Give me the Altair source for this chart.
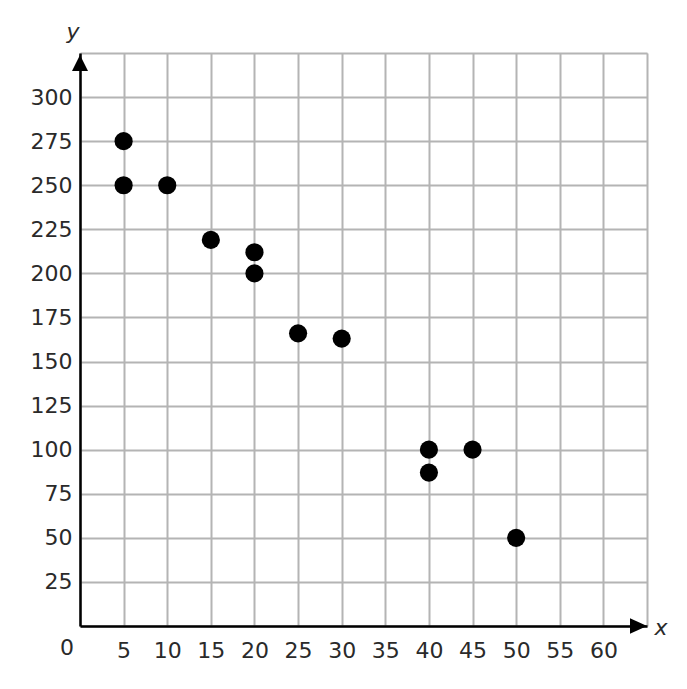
import altair as alt
import pandas as pd

# data
xs = [5, 5, 10, 15, 20, 20, 25, 30, 40, 40, 45, 50]
ys = [275, 250, 250, 219, 212, 200, 166, 163, 100, 87, 100, 50]

x_grid = list(range(0, 70, 5))
y_grid = list(range(0, 350, 25))

FONT = "DejaVu Sans"
FS = 22

pts = pd.DataFrame({"x": xs, "y": ys})

xscale = alt.Scale(domain=[0, 65], nice=False, zero=False)
yscale = alt.Scale(domain=[0, 325], nice=False, zero=False)

xaxis = alt.Axis(
    values=x_grid, title=None, grid=True, gridColor="#b4b4b4", gridWidth=2, gridOpacity=1,
    ticks=False, domainColor="black", domainWidth=2.5, labelFont=FONT, labelFontSize=FS,
    labelColor="#2a2a2a", labelPadding=14,
    labelExpr="(datum.value == 0 || datum.value == 65) ? '' : datum.label",
)
yaxis = alt.Axis(
    values=y_grid, title=None, grid=True, gridColor="#b4b4b4", gridWidth=2, gridOpacity=1,
    ticks=False, domainColor="black", domainWidth=2.5, labelFont=FONT, labelFontSize=FS,
    labelColor="#2a2a2a", labelPadding=8,
    labelExpr="(datum.value == 0 || datum.value == 325) ? '' : datum.label",
)

base = alt.Chart(pts)

dots = base.mark_circle(size=330, color="black", opacity=1).encode(
    x=alt.X("x:Q", scale=xscale, axis=xaxis),
    y=alt.Y("y:Q", scale=yscale, axis=yaxis),
)

up_arrow = alt.Chart(pd.DataFrame({"x": [0], "y": [325]})).mark_point(
    shape="M0,-1L-1,1L1,1Z", filled=True, color="black", opacity=1, size=256, yOffset=10
).encode(x=alt.X("x:Q", scale=xscale), y=alt.Y("y:Q", scale=yscale))

right_arrow = alt.Chart(pd.DataFrame({"x": [65], "y": [0]})).mark_point(
    shape="M1,0L-1,-0.9L-1,0.9Z", filled=True, color="black", opacity=1, size=289, xOffset=-8.5
).encode(x=alt.X("x:Q", scale=xscale), y=alt.Y("y:Q", scale=yscale))

zero_lbl = alt.Chart(pd.DataFrame({"x": [0], "y": [0], "t": ["0"]})).mark_text(
    font=FONT, fontSize=FS, color="#2a2a2a", dx=-13, dy=22
).encode(x=alt.X("x:Q", scale=xscale), y=alt.Y("y:Q", scale=yscale), text="t:N")

y_lbl = alt.Chart(pd.DataFrame({"x": [0], "y": [325], "t": ["y"]})).mark_text(
    font=FONT, fontSize=22, fontStyle="italic", color="#2a2a2a", dx=-7, dy=-21
).encode(x=alt.X("x:Q", scale=xscale), y=alt.Y("y:Q", scale=yscale), text="t:N")

x_lbl = alt.Chart(pd.DataFrame({"x": [65], "y": [0], "t": ["x"]})).mark_text(
    font=FONT, fontSize=22, fontStyle="italic", color="#2a2a2a", dx=14, dy=2
).encode(x=alt.X("x:Q", scale=xscale), y=alt.Y("y:Q", scale=yscale), text="t:N")

chart = alt.layer(dots, up_arrow, right_arrow, zero_lbl, y_lbl, x_lbl).properties(
    width=567, height=573,
    autosize=alt.AutoSizeParams(type="none"),
    padding={"left": 72, "top": 45, "right": 32, "bottom": 55},
).configure_view(stroke=None).configure(background="white")

chart.save("out.html", embed_options={"renderer": "svg", "actions": False})
